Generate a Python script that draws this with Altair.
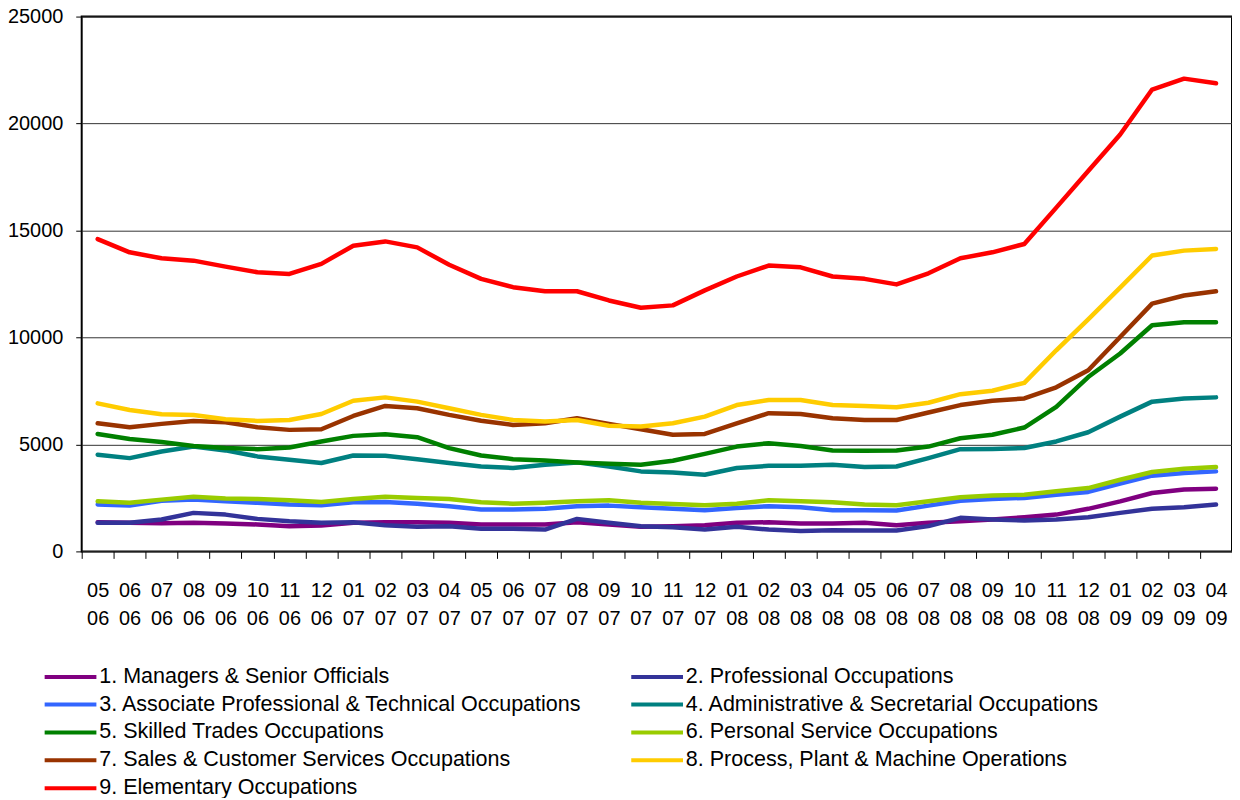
import altair as alt
import pandas as pd

periods = ["05 06", "06 06", "07 06", "08 06", "09 06", "10 06", "11 06", "12 06",
           "01 07", "02 07", "03 07", "04 07", "05 07", "06 07", "07 07", "08 07",
           "09 07", "10 07", "11 07", "12 07", "01 08", "02 08", "03 08", "04 08",
           "05 08", "06 08", "07 08", "08 08", "09 08", "10 08", "11 08", "12 08",
           "01 09", "02 09", "03 09", "04 09"]

names = ["1. Managers & Senior Officials",
         "2. Professional Occupations",
         "3. Associate Professional & Technical Occupations",
         "4. Administrative & Secretarial Occupations",
         "5. Skilled Trades Occupations",
         "6. Personal Service Occupations",
         "7. Sales & Customer Services Occupations",
         "8. Process, Plant & Machine Operations",
         "9. Elementary Occupations"]

colors = ["#800080", "#333399", "#3366FF", "#008080", "#008000",
          "#99CC00", "#993300", "#FFCC00", "#FF0000"]

managers = [1360, 1340, 1320, 1340, 1300, 1260, 1180, 1210, 1340, 1360, 1360, 1340, 1260,
            1260, 1260, 1360, 1260, 1150, 1180, 1220, 1340, 1360, 1300, 1300, 1340,
            1220, 1340, 1410, 1490, 1600, 1720, 1990, 2340, 2730, 2890, 2930]
professional = [1340, 1340, 1490, 1800, 1720, 1520, 1410, 1340, 1360, 1220, 1150, 1180, 1060,
                1060, 1020, 1520, 1340, 1180, 1130, 1020, 1150, 1020, 950, 990, 980,
                980, 1180, 1570, 1490, 1440, 1490, 1600, 1800, 1990, 2060, 2190]
associate = [2190, 2140, 2370, 2420, 2340, 2270, 2190, 2160, 2300, 2310, 2230, 2110, 1960,
             1960, 1990, 2110, 2140, 2060, 1990, 1920, 2030, 2110, 2060, 1920, 1920,
             1910, 2140, 2370, 2450, 2500, 2650, 2780, 3170, 3540, 3660, 3740]
administrative = [4520, 4360, 4670, 4900, 4720, 4440, 4280, 4130, 4480, 4470, 4310, 4130, 3970,
                  3900, 4050, 4160, 3970, 3740, 3690, 3580, 3900, 4000, 4000, 4050, 3940,
                  3970, 4360, 4780, 4790, 4830, 5140, 5570, 6300, 7000, 7150, 7200]
skilled = [5490, 5250, 5110, 4930, 4830, 4780, 4860, 5140, 5400, 5480, 5340, 4830, 4480,
           4310, 4250, 4160, 4100, 4050, 4240, 4560, 4900, 5060, 4930, 4720, 4700,
           4720, 4900, 5290, 5450, 5790, 6760, 8150, 9250, 10570, 10710, 10710]
personal = [2340, 2270, 2420, 2550, 2470, 2450, 2390, 2310, 2450, 2550, 2500, 2450, 2300,
            2230, 2270, 2340, 2390, 2270, 2220, 2160, 2230, 2390, 2340, 2300, 2190,
            2160, 2340, 2530, 2610, 2650, 2810, 2960, 3350, 3710, 3860, 3940]
sales = [5990, 5800, 5960, 6100, 6040, 5800, 5680, 5710, 6330, 6800, 6690, 6380, 6110,
         5910, 5990, 6220, 5960, 5710, 5450, 5490, 5990, 6460, 6420, 6220, 6140,
         6140, 6490, 6840, 7040, 7150, 7670, 8470, 10020, 11580, 11960, 12160]
process = [6920, 6610, 6410, 6380, 6180, 6100, 6140, 6420, 7040, 7200, 7000, 6690, 6380,
           6140, 6070, 6140, 5870, 5840, 5990, 6300, 6840, 7080, 7080, 6840, 6800,
           6740, 6950, 7350, 7510, 7880, 9400, 10850, 12330, 13830, 14060, 14140]
elementary = [14600, 13980, 13700, 13590, 13310, 13050, 12970, 13440, 14290, 14490, 14210, 13400, 12740,
              12350, 12160, 12160, 11730, 11390, 11500, 12200, 12850, 13360, 13280, 12850, 12740,
              12480, 13000, 13700, 13980, 14370, 16070, 17780, 19490, 21590, 22100, 21880]

y_ticks = [0, 5000, 10000, 15000, 20000, 25000]

all_series = [managers, professional, associate, administrative, skilled,
              personal, sales, process, elementary]

# legend fills column by column: odd-numbered left, even-numbered right
legend_order = [names[0], names[2], names[4], names[6], names[8],
                names[1], names[3], names[5], names[7]]

rows = []
for name, vals in zip(names, all_series):
    for p, v in zip(periods, vals):
        rows.append({"period": p, "occupation": name, "value": v})
df = pd.DataFrame(rows)

font = "Liberation Sans"

chart = alt.Chart(df).mark_line(strokeWidth=4.5, strokeJoin="round", strokeCap="round").encode(
    x=alt.X("period:N", sort=periods, bandPosition=0.5,
            scale=alt.Scale(type="band", paddingInner=0, paddingOuter=0),
            axis=alt.Axis(title=None, labelAngle=0, labelExpr="split(datum.label, ' ')",
                          labelFont=font, labelFontSize=20, labelLineHeight=28.5,
                          labelColor="black", tickSize=7, tickColor="black",
                          tickBand="extent", labelPadding=22, domain=False, grid=False)),
    y=alt.Y("value:Q", scale=alt.Scale(domain=[0, 25000], nice=False),
            axis=alt.Axis(title=None, values=y_ticks, format="d", grid=True,
                          gridColor="#333333", gridWidth=1, labelFont=font,
                          labelFontSize=20, labelColor="black", tickSize=6,
                          tickColor="black", labelPadding=13, domain=False)),
    color=alt.Color("occupation:N",
                    scale=alt.Scale(domain=names, range=colors),
                    legend=alt.Legend(title=None, orient="none", legendX=-48, legendY=652,
                                      values=legend_order,
                                      columns=2, columnPadding=38, rowPadding=5, padding=0,
                                      symbolType="M0,0H10", symbolSize=108,
                                      symbolStrokeWidth=4, labelOffset=44,
                                      labelFont=font, labelFontSize=21.6,
                                      labelColor="black", labelLimit=0)),
    order=alt.Order("occupation:N")
).properties(
    width=1155, height=537,
    autosize=alt.AutoSizeParams(type="none"),
    padding={"left": 74, "top": 7, "right": 0, "bottom": 246}
).configure_view(stroke="black", strokeWidth=2)

chart.save("out.html", embed_options={"renderer": "svg", "actions": False})
